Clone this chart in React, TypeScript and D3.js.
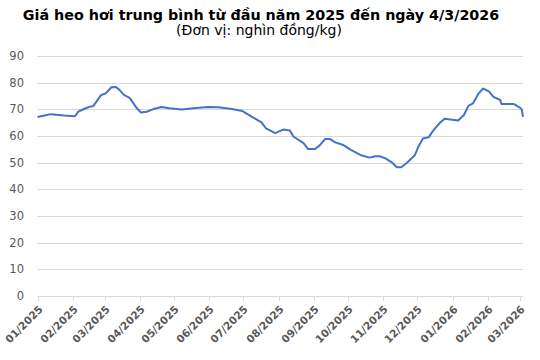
import React from "react";
import * as d3 from "d3";

const dates: string[] = [
  "2025-01-01","2025-01-05","2025-01-13","2025-01-24","2025-02-03","2025-02-06","2025-02-12","2025-02-16","2025-02-19","2025-02-22","2025-02-26","2025-03-02","2025-03-07","2025-03-11","2025-03-14","2025-03-18","2025-03-23","2025-03-26","2025-03-29","2025-04-02","2025-04-07","2025-04-13","2025-04-20","2025-04-27","2025-05-08","2025-05-18","2025-05-31","2025-06-09","2025-06-21","2025-06-30","2025-07-05","2025-07-11","2025-07-17","2025-07-21","2025-07-29","2025-08-05","2025-08-11","2025-08-14","2025-08-23","2025-08-27","2025-09-02","2025-09-06","2025-09-11","2025-09-15","2025-09-20","2025-09-27","2025-10-04","2025-10-12","2025-10-20","2025-10-25","2025-10-29","2025-11-03","2025-11-09","2025-11-13","2025-11-17","2025-11-22","2025-11-29","2025-12-02","2025-12-06","2025-12-11","2025-12-15","2025-12-21","2025-12-25","2026-01-06","2026-01-11","2026-01-15","2026-01-19","2026-01-24","2026-01-28","2026-02-02","2026-02-06","2026-02-12","2026-02-13","2026-02-24","2026-02-27","2026-03-02","2026-03-03","2026-03-04"
];
const prices: number[] = [
  67.1,67.5,68.2,67.7,67.4,69.2,70.3,71.0,71.2,73.0,75.4,76.0,78.3,78.4,77.3,75.4,74.3,72.5,70.6,68.8,69.1,70.1,70.9,70.4,69.9,70.4,70.9,70.8,70.1,69.4,68.1,66.6,65.1,62.9,61.1,62.4,62.1,59.8,57.3,55.1,55.1,56.4,58.9,58.9,57.6,56.6,54.7,52.9,51.9,52.4,52.4,51.6,50.0,48.3,48.3,50.0,52.9,56.0,59.1,59.5,62.0,65.0,66.5,65.8,67.9,71.3,72.2,76.0,77.8,76.7,74.7,73.5,72.0,72.0,71.2,70.4,69.8,67.2
];
const yTicks: number[] = [0, 10, 20, 30, 40, 50, 60, 70, 80, 90];
const monthTicks: string[] = [
  "2025-01-01","2025-02-01","2025-03-01","2025-04-01","2025-05-01","2025-06-01","2025-07-01","2025-08-01","2025-09-01","2025-10-01","2025-11-01","2025-12-01","2026-01-01","2026-02-01","2026-03-01"
];
const title = "Giá heo hơi trung bình từ đầu năm 2025 đến ngày 4/3/2026";
const subtitle = "(Đơn vị: nghìn đồng/kg)";

const parse = d3.utcParse("%Y-%m-%d");
const fmt = d3.utcFormat("%m/%Y");

export default function App() {
  const W = 540, H = 360;
  const x = d3.scaleUtc()
    .domain([parse("2025-01-01")!, parse("2026-03-04")!])
    .range([37.5, 523]);
  const y = d3.scaleLinear().domain([0, 90]).range([296, 56]);
  const pts: [Date, number][] = dates.map((d, i) => [parse(d)!, prices[i]]);
  const line = d3.line<[Date, number]>()
    .x(d => x(d[0]))
    .y(d => y(d[1]));
  const font = "'DejaVu Sans', Verdana, sans-serif";
  return (
    <svg width={W} height={H} style={{ position: "absolute", left: 0, top: 0, background: "#fff" }}>
      <text x={261} y={20} textAnchor="middle" fontFamily={font} fontWeight="bold" fontSize={14.3} fill="#000">{title}</text>
      <text x={259} y={35} textAnchor="middle" fontFamily={font} fontSize={14} fill="#000">{subtitle}</text>
      {yTicks.map(t => (
        <g key={t}>
          {t > 0 && <line x1={37.5} x2={523} y1={Math.round(y(t)) + 0.5} y2={Math.round(y(t)) + 0.5} stroke="#d9d9d9" strokeWidth={1} />}
          <text x={24} y={y(t) + 4} textAnchor="end" fontFamily={font} fontSize={11.5} fill="#595959">{t}</text>
        </g>
      ))}
      <line x1={37.5} x2={523} y1={296.5} y2={296.5} stroke="#d9d9d9" strokeWidth={1} />
      {monthTicks.map(m => {
        const xx = Math.round(x(parse(m)!)) + 0.5;
        return (
          <g key={m}>
            <line x1={xx} x2={xx} y1={296.5} y2={301} stroke="#d9d9d9" strokeWidth={1} />
            <text transform={`translate(${xx + 5},${310}) rotate(-45)`} textAnchor="end" fontFamily={font} fontSize={10.5} fontWeight="bold" fill="#595959">{fmt(parse(m)!)}</text>
          </g>
        );
      })}
      <path d={line(pts) || ""} fill="none" stroke="#4472C4" strokeWidth={2} strokeLinejoin="round" />
    </svg>
  );
}
